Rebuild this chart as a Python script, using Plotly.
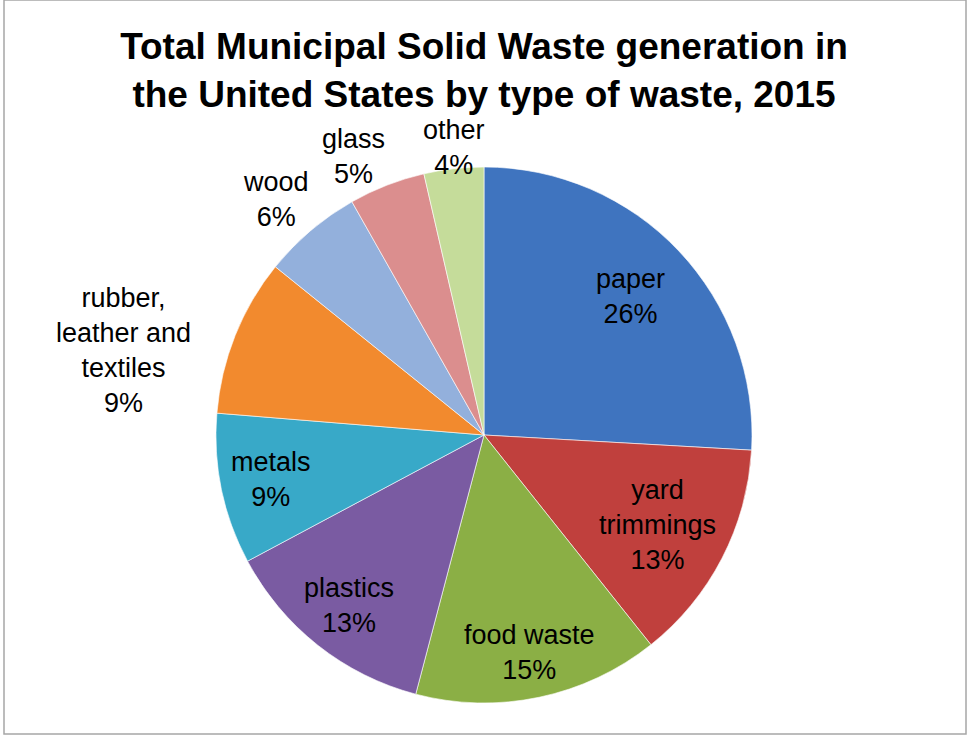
import math
import plotly.graph_objects as go

# ---- data ----
categories = ["paper", "yard<br>trimmings", "food waste", "plastics", "metals",
              "rubber,<br>leather and<br>textiles", "wood", "glass", "other"]
shares = [25.9, 13.4, 14.8, 13.1, 9.1, 9.5, 6.0, 4.6, 3.6]
pct_labels = ["26%", "13%", "15%", "13%", "9%", "9%", "6%", "5%", "4%"]
colors = ["#3F74BF", "#C0403D", "#8BAF45", "#7A5BA2", "#38A9C8",
          "#F28A2E", "#93B0DC", "#DB8E8E", "#C5DC9A"]

# label placement style: radial factor (fraction of radius), anchors, pixel nudge
label_radius = [0.75, 0.73, 0.83, 0.81, 0.81, 1.17, 1.0, 1.0, 1.0]
label_xanchor = ["center"] * 5 + ["right", "right", "right", "center"]
label_yanchor = ["middle"] * 5 + ["middle", "bottom", "bottom", "bottom"]
label_yshift = [0, 0, 0, 0, 0, -32, -3, -6, -13]

W, H = 968, 736
cx, cy, R = 484, 435, 268
FONT = "Liberation Sans, Arial, sans-serif"

fig = go.Figure(go.Pie(
    labels=[c.replace("<br>", " ") for c in categories],
    values=shares,
    textinfo="none",
    sort=False,
    direction="clockwise",
    rotation=0,
    marker=dict(colors=colors, line=dict(color="rgba(255,255,255,0.6)", width=1)),
    domain=dict(x=[(cx - R) / W, (cx + R) / W],
                y=[(H - cy - R) / H, (H - cy + R) / H]),
    showlegend=False,
    hoverinfo="label+percent",
))

# data labels placed at each slice's mid angle (computed from the shares)
total = sum(shares)
annotations = []
cum = 0.0
for cat, s, pct, f, xa, ya, ys in zip(categories, shares, pct_labels, label_radius,
                                      label_xanchor, label_yanchor, label_yshift):
    mid = (cum + s / 2) / total * 2 * math.pi
    cum += s
    px = cx + f * R * math.sin(mid)
    py = cy - f * R * math.cos(mid)
    annotations.append(dict(
        x=px / W, y=1 - py / H, xref="paper", yref="paper",
        text=f"{cat}<br>{pct}", showarrow=False,
        xanchor=xa, yanchor=ya, align="center", yshift=ys,
        font=dict(family=FONT, size=27, color="black"),
    ))

fig.update_layout(
    width=W, height=H,
    margin=dict(l=0, r=0, t=0, b=0),
    paper_bgcolor="white",
    title=dict(
        text="<b>Total Municipal Solid Waste generation in<br>the United States by type of waste, 2015</b>",
        font=dict(family=FONT, size=37, color="black"),
        x=0.5, xanchor="center", y=0.92, yanchor="middle",
    ),
    annotations=annotations,
    shapes=[dict(type="rect", xref="paper", yref="paper",
                 x0=4 / W, x1=966 / W, y0=(H - 734) / H, y1=1.0,
                 line=dict(color="#A6A6A6", width=1.5))],
)

fig.write_html("out.html")
